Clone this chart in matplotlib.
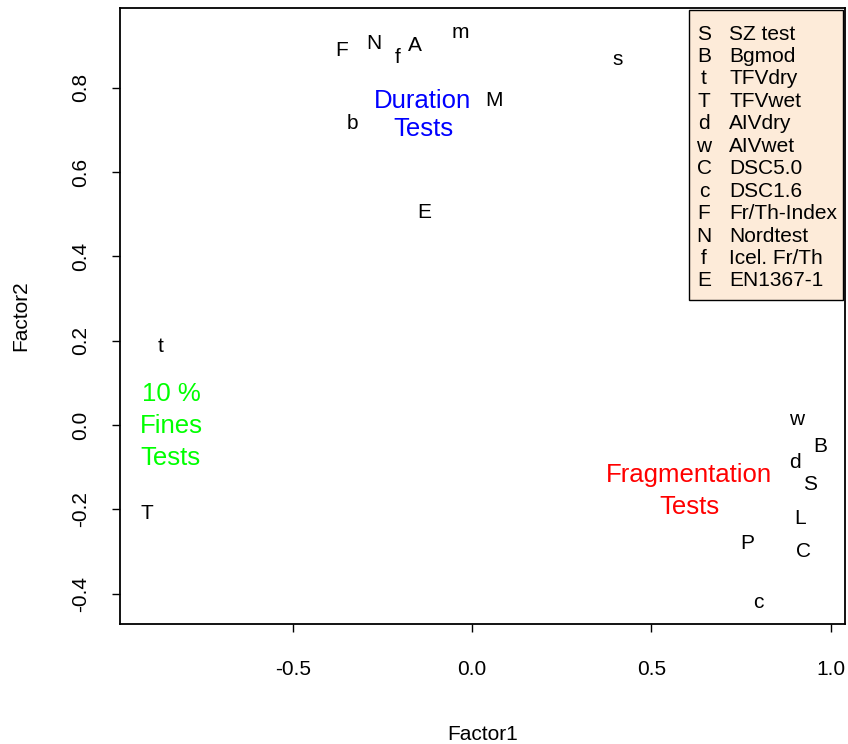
import matplotlib
matplotlib.use("Agg")
import matplotlib.pyplot as plt
from matplotlib.patches import Rectangle

plt.rcParams['font.family'] = ['Liberation Sans', 'DejaVu Sans']

# Faktorladungen (Buchstabe, Factor1, Factor2)
letters = ["F", "N", "f", "A", "m", "s", "M", "b", "E", "t", "T",
           "w", "B", "d", "S", "L", "P", "C", "c"]
factor1 = [-0.365, -0.273, -0.209, -0.159, -0.033, 0.407, 0.061, -0.335, -0.134,
           -0.870, -0.907, 0.904, 0.971, 0.901, 0.943, 0.915, 0.767, 0.923, 0.798]
factor2 = [0.889, 0.904, 0.871, 0.899, 0.932, 0.868, 0.769, 0.716, 0.503,
           0.185, -0.209, 0.012, -0.052, -0.090, -0.140, -0.221, -0.282, -0.301, -0.420]

# Gruppenbeschriftungen
group_text = ["Duration\nTests", "10 %\nFines\nTests", "Fragmentation\nTests"]
group_x = [-0.137, -0.840, 0.605]
group_y = [0.736, -0.002, -0.157]
group_col = ["#0000ff", "#00ff00", "#ff0000"]
group_ls = [1.22, 1.42, 1.42]

# Legende
leg_sym = ["S", "B", "t", "T", "d", "w", "C", "c", "F", "N", "f", "E"]
leg_txt = ["SZ test", "Bgmod", "TFVdry", "TFVwet", "AIVdry", "AIVwet",
           "DSC5.0", "DSC1.6", "Fr/Th-Index", "Nordtest", "Icel. Fr/Th", "EN1367-1"]

W, H = 848, 744
fig = plt.figure(figsize=(W / 100, H / 100), dpi=100)
L, R, T, B = 120, 845, 8, 624
ax = fig.add_axes([L / W, 1 - B / H, (R - L) / W, (B - T) / H])

for lt, x, y in zip(letters, factor1, factor2):
    ax.text(x, y, lt, fontsize=15, ha="center", va="center")

for txt, x, y, c, ls in zip(group_text, group_x, group_y, group_col, group_ls):
    ax.text(x, y, txt, fontsize=18.5, ha="center", va="center", color=c,
            linespacing=ls)

ax.set_xlim(-0.982, 1.040)
ax.set_ylim(-0.472, 0.989)
ax.set_xticks([-0.5, 0.0, 0.5, 1.0])
ax.set_xticklabels(["-0.5", "0.0", "0.5", "1.0"])
ax.set_yticks([-0.4, -0.2, 0.0, 0.2, 0.4, 0.6, 0.8])
ax.set_yticklabels(["-0.4", "-0.2", "0.0", "0.2", "0.4", "0.6", "0.8"],
                   rotation=90, va="center")
ax.tick_params(direction="out", length=5.8, width=1, labelsize=15)
ax.tick_params(axis="x", pad=20)
ax.tick_params(axis="y", pad=16)
for sp in ax.spines.values():
    sp.set_linewidth(1.3)

ax.set_xlabel("Factor1", fontsize=15, labelpad=33)
ax.set_ylabel("Factor2", fontsize=15, labelpad=29)


# Legende in Pixelkoordinaten
def px(xp, yp):
    return (xp - L) / (R - L), (B - yp) / (B - T)


x0, y0 = px(689, 300)
x1, y1 = px(843, 10)
ax.add_patch(Rectangle((x0, y0), x1 - x0, y1 - y0, transform=ax.transAxes,
                       facecolor="#fdebd9", edgecolor="black", lw=1, zorder=3))
for i, (s, t) in enumerate(zip(leg_sym, leg_txt)):
    yy = 34 + i * 22.45
    ax.text(*px(704, yy), s, transform=ax.transAxes, fontsize=15,
            ha="center", va="center", zorder=4)
    ax.text(*px(729, yy), t, transform=ax.transAxes, fontsize=15,
            ha="left", va="center", zorder=4)

fig.savefig("out.png", dpi=100)
